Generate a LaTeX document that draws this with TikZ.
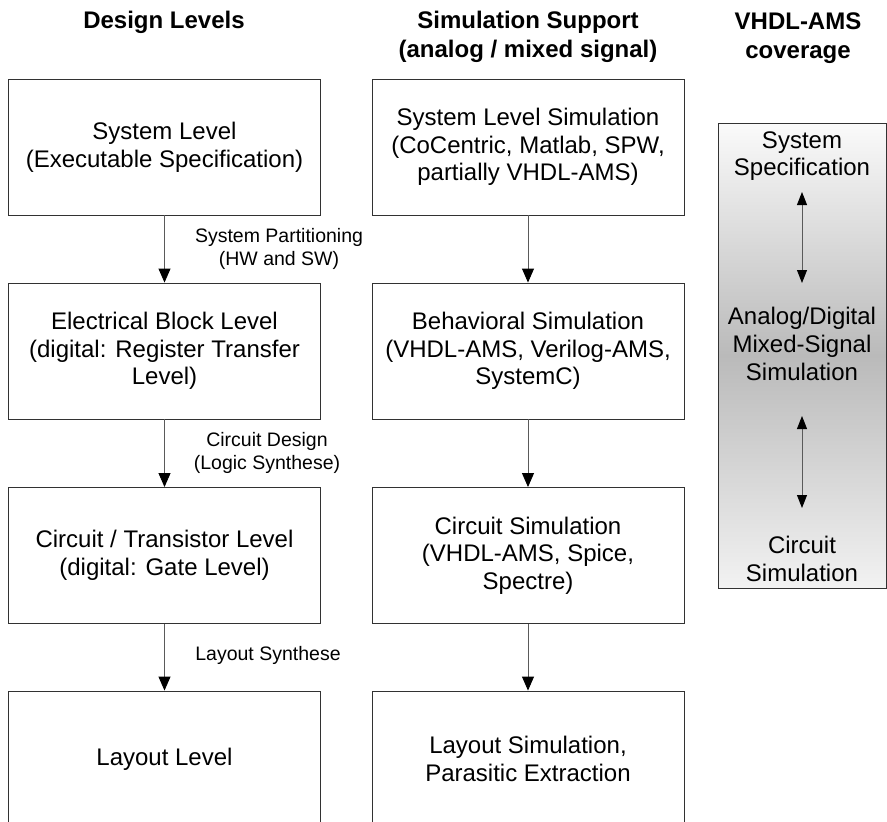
\documentclass[tikz,border=0pt]{standalone}
\usepackage{fontspec}
\setmainfont{Liberation Sans}
\usetikzlibrary{arrows.meta}
\definecolor{gtop}{RGB}{250,250,250}
\definecolor{gmid}{RGB}{186,186,186}
\definecolor{gbot}{RGB}{242,242,242}
\definecolor{linegray}{RGB}{90,90,90}
\definecolor{boxline}{RGB}{50,50,50}
\begin{document}
\begin{tikzpicture}[x=1pt,y=-1pt,
  box/.style={draw=boxline, line width=0.9pt, minimum width=312pt, minimum height=136pt, inner sep=0pt, align=center, font=\fontsize{24}{27.6}\selectfont},
  title/.style={font=\bfseries\fontsize{24}{29}\selectfont, align=center},
  lbl/.style={font=\fontsize{19.5}{23}\selectfont, align=center, inner sep=0pt},
  rtxt/.style={font=\fontsize{24}{27.6}\selectfont, align=center, inner sep=0pt},
  flow/.style={draw=linegray, line width=0.9pt, -{Triangle[length=14pt,width=12pt,color=black]}},
  both/.style={draw=linegray, line width=0.9pt, {Triangle[length=13pt,width=10pt,color=black]}-{Triangle[length=13pt,width=10pt,color=black]}},
]
\useasboundingbox (0,0) rectangle (887,822);
\clip (0,0) rectangle (887,822);
\fill[white] (0,0) rectangle (887,822);

% titles
\node[title] (t1) at (164,22) {Design Levels};
\node[title] (t2) at (528,37) {Simulation Support\\(analog / mixed signal)};
\node[title] (t3) at (798,38) {VHDL-AMS\\coverage};

% design levels
\node[box] (d1) at (164.5,147) {System Level\\(Executable Specification)};
\node[box] (d2) at (164.5,351) {Electrical Block Level\\(digital: Register Transfer\\Level)};
\node[box] (d3) at (164.5,555.5) {Circuit / Transistor Level\\(digital: Gate Level)};
\node[box] (d4) at (164.5,759) {Layout Level};

% simulation support
\node[box] (s1) at (528,147) {System Level Simulation\\(CoCentric, Matlab, SPW,\\partially VHDL-AMS)};
\node[box] (s2) at (528,351) {Behavioral Simulation\\(VHDL-AMS, Verilog-AMS,\\SystemC)};
\node[box] (s3) at (528,555.5) {Circuit Simulation\\(VHDL-AMS, Spice,\\Spectre)};
\node[box] (s4) at (528,759) {Layout Simulation,\\Parasitic Extraction};

% arrows
\draw[flow] (d1) -- (d2);
\draw[flow] (d2) -- (d3);
\draw[flow] (d3) -- (d4);
\draw[flow] (s1) -- (s2);
\draw[flow] (s2) -- (s3);
\draw[flow] (s3) -- (s4);

% edge labels
\node[lbl] (l1) at (279,249) {System Partitioning\\(HW and SW)};
\node[lbl] (l2) at (267,453) {Circuit Design\\(Logic Synthese)};
\node[lbl] (l3) at (268,655) {Layout Synthese};

% coverage box
\node[draw=boxline, line width=0.9pt, minimum width=168pt, minimum height=465pt, inner sep=0pt,
      top color=gtop, bottom color=gbot, middle color=gmid] (cov) at (802,355.5) {};
\node[rtxt] (c1) at (802,156) {System\\Specification};
\node[rtxt] (c2) at (802,344) {Analog/Digital\\Mixed-Signal\\Simulation};
\node[rtxt] (c3) at (802,559) {Circuit\\Simulation};
\coordinate (a1) at (802,192);
\coordinate (a2) at (802,283);
\coordinate (a3) at (802,416);
\coordinate (a4) at (802,508);
\draw[both] (a1) -- (a2);
\draw[both] (a3) -- (a4);
\end{tikzpicture}
\end{document}
